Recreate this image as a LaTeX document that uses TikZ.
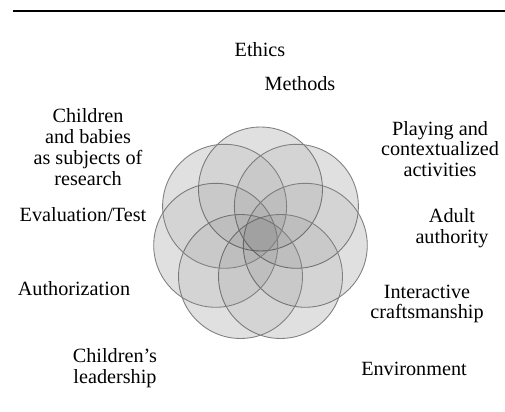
\documentclass[tikz,border=0pt]{standalone}
\usepackage{fontspec}
\setmainfont{Liberation Serif}
\usepackage{tikz}

\begin{document}
\begin{tikzpicture}
  [x=0.02cm,y=-0.02cm,
   petal/.style={circle,minimum size=2.48cm,inner sep=0pt,
     fill=black,fill opacity=.05,draw=black!50,draw opacity=1,line width=.5pt},
   lbl/.style={align=center,inner sep=0pt,
     font=\fontsize{11.5}{11.9}\selectfont}]
  \useasboundingbox (0,0) rectangle (505,412);
  \draw[line width=.6pt] (13,11) -- (505,11);

  % seven petals round the centre
  \coordinate (c1) at (260.5,189);
  \coordinate (c2) at (296.4,206.3);
  \coordinate (c3) at (305.3,245.3);
  \coordinate (c4) at (280.5,276.5);
  \coordinate (c5) at (240.5,276.5);
  \coordinate (c6) at (215.7,245.3);
  \coordinate (c7) at (224.6,206.3);

  \foreach \i in {1,...,7}
    \fill[black!7] (c\i) circle (1.24cm);
  \foreach \i in {1,...,7}
    \node[petal] (p\i) at (c\i) {};

  \node[lbl] (ethics) at (260,50) {Ethics};
  \node[lbl] (methods) at (300,84) {Methods};
  \node[lbl] (babies) at (88,147) {Children\\and babies\\as subjects of\\research};
  \node[lbl] (evaluation) at (83,215) {Evaluation/Test};
  \node[lbl] (authorization) at (74,289) {Authorization};
  \node[lbl] (leadership) at (115,368) {Children’s\\leadership};
  \node[lbl] (playing) at (440,149) {Playing and\\contextualized\\activities};
  \node[lbl] (adult) at (452,228) {Adult\\authority};
  \node[lbl] (interactive) at (427,304) {Interactive\\craftsmanship};
  \node[lbl] (environment) at (414,369) {Environment};
\end{tikzpicture}
\end{document}
